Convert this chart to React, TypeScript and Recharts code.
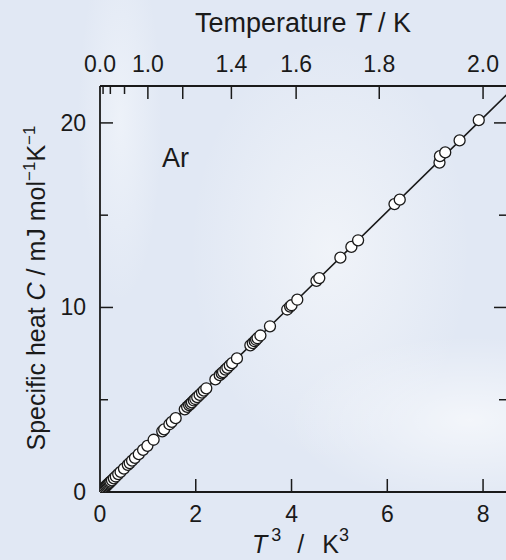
import {
  ComposedChart,
  Line,
  Scatter,
  XAxis,
  YAxis,
} from "recharts";

// measured points: T^3 (K^3) vs C (mJ/mol/K)
const tCubed = [
  0.05, 0.08, 0.1, 0.12, 0.14, 0.16, 0.18, 0.2, 0.22, 0.25, 0.29, 0.33, 0.38,
  0.43, 0.5, 0.58, 0.62, 0.67, 0.73, 0.81, 0.9, 0.99, 1.12, 1.3, 1.34, 1.45,
  1.5, 1.58, 1.77, 1.82, 1.86, 1.89, 1.92, 1.96, 1.99, 2.03, 2.08, 2.13, 2.17,
  2.22, 2.41, 2.5, 2.54, 2.57, 2.62, 2.66, 2.71, 2.76, 2.86, 3.14, 3.19, 3.23,
  3.26, 3.29, 3.35, 3.55, 3.91, 3.97, 4.0, 4.12, 4.52, 4.58, 5.02, 5.25, 5.39,
  6.15, 6.26, 7.09, 7.1, 7.21, 7.51, 7.91,
];
const heat = [
  0.13, 0.2, 0.26, 0.31, 0.36, 0.41, 0.46, 0.51, 0.56, 0.63, 0.74, 0.84, 0.97,
  1.09, 1.27, 1.47, 1.57, 1.7, 1.85, 2.05, 2.28, 2.5, 2.83, 3.29, 3.39, 3.67,
  3.8, 4.0, 4.48, 4.61, 4.71, 4.78, 4.86, 4.96, 5.04, 5.14, 5.26, 5.39, 5.49,
  5.62, 6.1, 6.33, 6.43, 6.5, 6.63, 6.73, 6.86, 6.98, 7.24, 7.95, 8.07, 8.17,
  8.25, 8.33, 8.48, 8.98, 9.89, 10.05, 10.12, 10.42, 11.44, 11.59, 12.7,
  13.28, 13.64, 15.6, 15.84, 17.85, 18.2, 18.4, 19.05, 20.15,
];

// fitted line
const fitX = [0, 4, 8.5];
const fitY = [0, 10.12, 21.55];

// axes
const bottomTicks = [0, 2, 4, 6, 8];
const leftTicks = [0, 5, 10, 15, 20];
const tempTicks = [0, 0.4, 0.6, 0.8, 1.0, 1.2, 1.4, 1.6, 1.8, 2.0];
const tempLabels = ["0.0", "", "", "", "1.0", "", "1.4", "1.6", "1.8", "2.0"];

const points = tCubed.map((x, i) => ({ x, y: heat[i] }));
const fit = fitX.map((x, i) => ({ x, y: fitY[i] }));
const tempPos = tempTicks.map((t) => t * t * t);

const PLOT_LEFT = 100;
const PLOT_RIGHT = 507;
const PLOT_TOP = 86;
const PLOT_BOTTOM = 492;
const FONT = "'Liberation Sans', Arial, Helvetica, sans-serif";
const INK = "#1a1a1a";

function BottomTick(props: any) {
  const { x, payload } = props;
  return (
    <g>
      {payload.value !== 0 && (
        <line x1={x} x2={x} y1={PLOT_BOTTOM} y2={PLOT_BOTTOM - 13} stroke={INK} strokeWidth={1.5} />
      )}
      <text x={x} y={522} textAnchor="middle" fontSize={23} fontFamily={FONT} fill={INK}>
        {payload.value}
      </text>
    </g>
  );
}

function TopTick(props: any) {
  const { x, payload } = props;
  const i = tempPos.findIndex((p) => Math.abs(p - payload.value) < 1e-6);
  if (i < 0) return <g />;
  const label = tempLabels[i];
  const len = tempTicks[i] < 1 ? 8 : 13;
  return (
    <g>
      {i > 0 && (
        <line x1={x} x2={x} y1={PLOT_TOP} y2={PLOT_TOP + len} stroke={INK} strokeWidth={1.5} />
      )}
      {label && (
        <text x={x} y={72} textAnchor="middle" fontSize={23} fontFamily={FONT} fill={INK}>
          {label}
        </text>
      )}
    </g>
  );
}

function LeftTick(props: any) {
  const { y, payload } = props;
  const major = payload.value % 10 === 0;
  const len = major ? 13 : 8;
  return (
    <g>
      {payload.value !== 0 && (
        <>
          <line x1={PLOT_LEFT} x2={PLOT_LEFT + len} y1={y} y2={y} stroke={INK} strokeWidth={1.5} />
          <line x1={PLOT_RIGHT - len} x2={PLOT_RIGHT} y1={y} y2={y} stroke={INK} strokeWidth={1.5} />
        </>
      )}
      {major && (
        <text x={86} y={y + 8} textAnchor="end" fontSize={23} fontFamily={FONT} fill={INK}>
          {payload.value}
        </text>
      )}
    </g>
  );
}

function Dot(props: any) {
  return <circle cx={props.cx} cy={props.cy} r={5.5} fill="#ffffff" stroke={INK} strokeWidth={1.3} />;
}

export default function App() {
  return (
    <div
      style={{
        position: "absolute",
        left: 0,
        top: 0,
        width: 506,
        height: 560,
        overflow: "hidden",
        background:
          "radial-gradient(ellipse 260px 120px at 470px 420px, rgba(255,255,255,0.6), rgba(255,255,255,0) 70%)," +
          "radial-gradient(ellipse 200px 300px at 330px 250px, rgba(245,247,250,0.75), rgba(245,247,250,0) 70%)," +
          "radial-gradient(ellipse 60px 260px at 120px 120px, rgba(240,244,250,0.8), rgba(240,244,250,0) 70%)," +
          "#e1e8f4",
        fontFamily: FONT,
      }}
    >
      <ComposedChart
        width={520}
        height={560}
        margin={{ top: PLOT_TOP - 40, right: 13, bottom: 28, left: 0 }}
      >
        <XAxis
          xAxisId="b"
          dataKey="x"
          type="number"
          domain={[0, 8.5]}
          ticks={bottomTicks}
          height={40}
          stroke={INK}
          strokeWidth={1.8}
          tickLine={false}
          tick={<BottomTick />}
          interval={0}
          allowDataOverflow
        />
        <XAxis
          xAxisId="t"
          orientation="top"
          dataKey="x"
          type="number"
          domain={[0, 8.5]}
          ticks={tempPos}
          height={40}
          stroke={INK}
          strokeWidth={1.8}
          tickLine={false}
          tick={<TopTick />}
          interval={0}
          allowDataOverflow
        />
        <YAxis
          yAxisId="l"
          type="number"
          domain={[0, 22]}
          ticks={leftTicks}
          width={PLOT_LEFT}
          stroke={INK}
          strokeWidth={1.8}
          tickLine={false}
          tick={<LeftTick />}
          interval={0}
          allowDataOverflow
        />
        <Line
          xAxisId="b"
          yAxisId="l"
          data={fit}
          dataKey="y"
          type="linear"
          stroke={INK}
          strokeWidth={1.6}
          dot={false}
          activeDot={false}
          isAnimationActive={false}
        />
        <Line
          xAxisId="t"
          yAxisId="l"
          data={fit}
          dataKey="y"
          stroke="none"
          dot={false}
          activeDot={false}
          isAnimationActive={false}
        />
        <Scatter
          xAxisId="b"
          yAxisId="l"
          data={points}
          dataKey="y"
          shape={<Dot />}
          isAnimationActive={false}
        />
      </ComposedChart>
      <svg
        width={506}
        height={560}
        style={{ position: "absolute", left: 0, top: 0, pointerEvents: "none" }}
        fontFamily={FONT}
        fill={INK}
      >
        <text x={303} y={32} textAnchor="middle" fontSize={27}>
          Temperature <tspan fontStyle="italic">T</tspan> / K
        </text>
        <text x={252} y={553} fontSize={25}>
          <tspan fontStyle="italic">T</tspan>
          <tspan fontSize={18} dy={-12} dx={4}>3</tspan>
          <tspan dy={12} dx={16}>/</tspan>
          <tspan dx={18}>K</tspan>
          <tspan fontSize={18} dy={-12}>3</tspan>
        </text>
        <text x={162} y={167} fontSize={27}>
          Ar
        </text>
        <text transform="translate(45,288) rotate(-90)" textAnchor="middle" fontSize={25}>
          Specific heat <tspan fontStyle="italic">C</tspan> / mJ mol
          <tspan fontSize={17} dy={-10}>−1</tspan>
          <tspan dy={10}>K</tspan>
          <tspan fontSize={17} dy={-10}>−1</tspan>
        </text>
      </svg>
    </div>
  );
}
